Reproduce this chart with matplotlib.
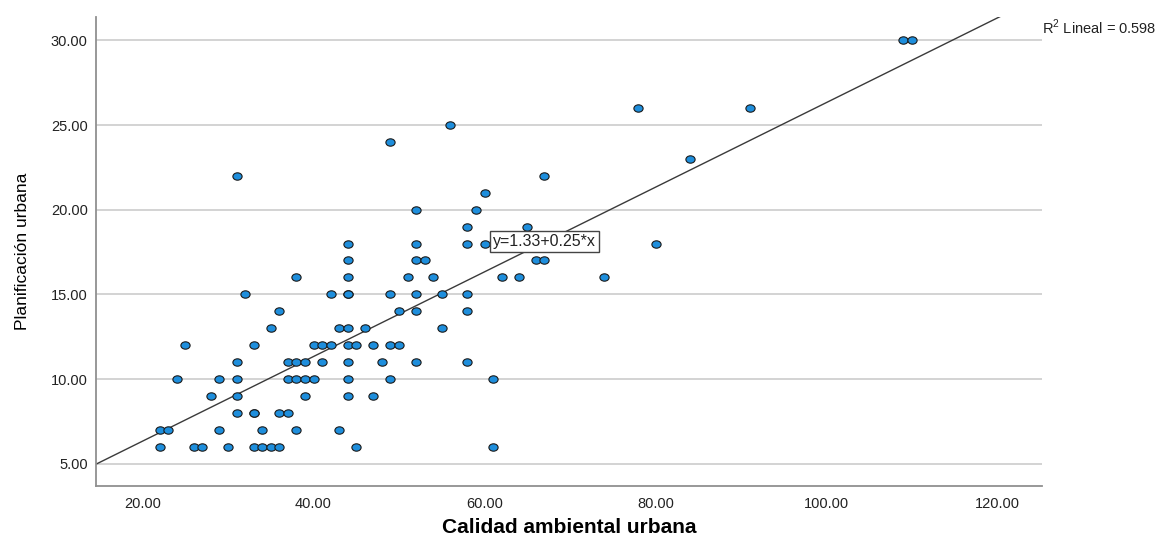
#!/usr/bin/env python3
"""Scatter: Calidad ambiental urbana vs Planificación urbana, with linear fit (SPSS style)."""
import matplotlib
matplotlib.use("Agg")
import matplotlib.pyplot as plt
from matplotlib.path import Path
from matplotlib.transforms import Affine2D

# points, grouped by y (Planificación urbana)
rows = {
    6: [22, 26, 27, 30, 33, 34, 35, 36, 45, 61],
    7: [22, 23, 29, 34, 38, 43],
    8: [31, 33, 33, 36, 37],
    9: [28, 31, 39, 44, 47],
    10: [24, 29, 31, 37, 38, 39, 40, 44, 49, 61],
    11: [31, 37, 38, 39, 41, 44, 48, 52, 58],
    12: [25, 33, 40, 41, 42, 44, 45, 47, 49, 50],
    13: [35, 43, 44, 46, 55],
    14: [36, 50, 52, 58],
    15: [32, 42, 44, 44, 49, 52, 55, 58],
    16: [38, 44, 51, 54, 62, 64, 74],
    17: [44, 52, 53, 66, 67],
    18: [44, 52, 58, 60, 80],
    19: [58, 65],
    20: [52, 59],
    21: [60],
    22: [31, 67],
    23: [84],
    24: [49],
    25: [56],
    26: [78, 91],
    30: [109, 110],
}
calidad = [x for y, xs in rows.items() for x in xs]
planif = [y for y, xs in rows.items() for x in xs]

intercept, slope = 1.33, 0.25
r2 = 0.598
x_ticks = [20, 40, 60, 80, 100, 120]
y_ticks = [5, 10, 15, 20, 25, 30]

plt.rcParams["font.family"] = ["Liberation Sans", "DejaVu Sans"]
plt.rcParams["mathtext.fontset"] = "custom"
plt.rcParams["mathtext.rm"] = "Liberation Sans"

fig = plt.figure(figsize=(11.57, 5.39), dpi=100)
ax = fig.add_axes([96 / 1157, 53.3 / 539, 946 / 1157, 468.7 / 539])
xlim = (14.56, 125.2)
ylim = (3.70, 31.38)
ax.set_xlim(*xlim); ax.set_ylim(*ylim)

ax.set_yticks(y_ticks)
ax.set_yticklabels([f"{v:.2f}" for v in y_ticks])
ax.set_xticks(x_ticks)
ax.set_xticklabels([f"{v:.2f}" for v in x_ticks])
ax.tick_params(length=0, labelsize=10.5, labelcolor="#222222")
ax.tick_params(axis="y", pad=6)
ax.tick_params(axis="x", pad=8)

for s in ("top", "right"):
    ax.spines[s].set_visible(False)
for s in ("left", "bottom"):
    ax.spines[s].set_color("#909090"); ax.spines[s].set_linewidth(1.3)
ax.yaxis.grid(True, color="#cccccc", lw=1.2)
ax.set_axisbelow(True)

# slightly wide ellipse marker like SPSS
ell = Path.unit_circle().transformed(Affine2D().scale(1.0, 0.8))
ax.scatter(calidad, planif, marker=ell, s=44, facecolor="#1E8EDC",
           edgecolor="#1a1a1a", linewidth=0.8, zorder=3)

ax.plot(xlim, [intercept + slope * v for v in xlim], color="#3a3a3a", lw=1.0, zorder=2)
ax.text(61.0, 18.1, f"y={intercept:.2f}+{slope:.2f}*x", fontsize=11.5, ha="left", va="center",
        color="#222222", zorder=5,
        bbox=dict(boxstyle="square,pad=0.18", facecolor="white", edgecolor="#444444", lw=1.0))

ax.set_xlabel("Calidad ambiental urbana", fontsize=15, fontweight="bold")
ax.xaxis.set_label_coords(0.5, -0.068)
ax.set_ylabel("Planificación urbana", fontsize=12.5)
ax.yaxis.set_label_coords(-0.070, 0.5)

fig.text(1042 / 1157, 1 - 27 / 539, r"R$^{\mathrm{2}}$ Lineal = " + f"{r2:.3f}",
         fontsize=10.5, ha="left", va="center", color="#222222")

fig.savefig("out.png", dpi=100)
